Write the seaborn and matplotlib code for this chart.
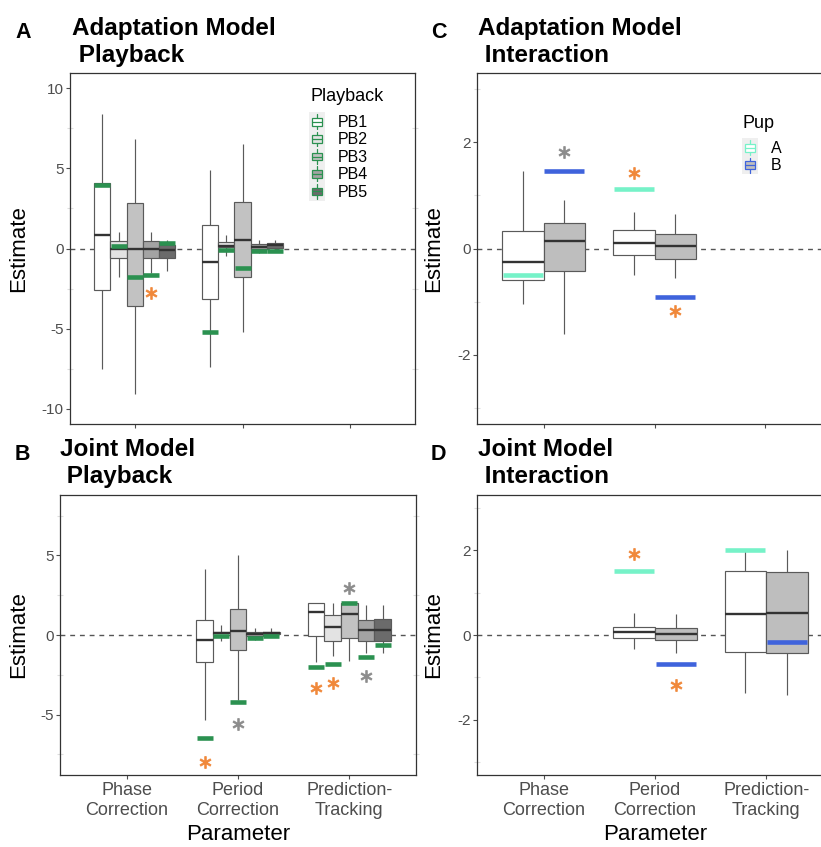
import numpy as np
import pandas as pd
import matplotlib
matplotlib.use("Agg")
import matplotlib.pyplot as plt
import seaborn as sns
from matplotlib.patches import Patch, Rectangle
from matplotlib.lines import Line2D
from matplotlib.legend_handler import HandlerBase
from matplotlib.ticker import MultipleLocator

# config
sns.set_theme(style="white")
plt.rcParams["font.family"] = ["Liberation Sans", "DejaVu Sans"]
plt.rcParams["axes.unicode_minus"] = False
plt.rcParams["text.color"] = "black"
W, H = 821, 847
######################################

PARAMS = ["Phase Correction", "Period Correction", "Prediction-Tracking"]
PARAM_LABELS = ["Phase\nCorrection", "Period\nCorrection", "Prediction-\nTracking"]
PLAYBACKS = ["PB1", "PB2", "PB3", "PB4", "PB5"]
PUPS = ["A", "B"]

PB_FILLS = ["#ffffff", "#e3e3e3", "#c2c2c2", "#a3a3a3", "#6b6b6b"]
PB_EST = "#2b9150"
PUP_FILLS = ["#ffffff", "#bebebe"]
PUP_EST = ["#76f2c8", "#3f63dc"]
STAR_COLORS = {"orange": "#f0883a", "grey": "#8c8c8c"}

# A: adaptation model, playback  (whisker low, q1, median, q3, whisker high)
a_param = ["Phase Correction"] * 5 + ["Period Correction"] * 5
a_level = PLAYBACKS * 2
a_lo = [-7.5, -1.8, -9.05, -1.5, -1.4, -7.4, -0.48, -5.2, -0.27, -0.17]
a_q1 = [-2.6, -0.62, -3.6, -0.62, -0.58, -3.17, 0.1, -1.76, -0.02, 0.02]
a_med = [0.83, -0.05, -0.06, 0.0, -0.1, -0.83, 0.18, 0.56, 0.1, 0.2]
a_q3 = [4.07, 0.46, 2.84, 0.46, 0.2, 1.45, 0.39, 2.88, 0.29, 0.33]
a_hi = [8.38, 1.0, 6.83, 1.0, 0.56, 4.92, 0.87, 6.51, 0.56, 0.56]
a_est = [3.98, 0.15, -1.78, -1.68, 0.35, -5.21, -0.12, -1.22, -0.17, -0.17]
a_star_param = ["Phase Correction"]
a_star_level = ["PB4"]
a_star_y = [-2.76]
a_star_kind = ["orange"]

# B: joint model, playback
b_param = ["Period Correction"] * 5 + ["Prediction-Tracking"] * 5
b_level = PLAYBACKS * 2
b_lo = [-5.33, -0.36, -4.08, -0.31, -0.1, -1.72, -1.3, -1.61, -1.11, -1.11]
b_q1 = [-1.72, 0.0, -0.96, -0.06, 0.04, -0.04, -0.36, -0.17, -0.36, -0.36]
b_med = [-0.31, 0.12, 0.25, 0.04, 0.1, 1.42, 0.48, 1.32, 0.29, 0.29]
b_q3 = [0.92, 0.21, 1.63, 0.17, 0.17, 1.99, 1.26, 1.99, 0.94, 0.98]
b_hi = [4.12, 0.63, 5.0, 0.42, 0.46, 1.99, 1.99, 1.99, 1.88, 1.88]
b_est = [-6.49, -0.06, -4.18, -0.17, -0.04, -2.01, -1.8, 1.99, -1.4, -0.61]
b_star_param = ["Period Correction", "Period Correction", "Prediction-Tracking",
                "Prediction-Tracking", "Prediction-Tracking", "Prediction-Tracking"]
b_star_level = ["PB1", "PB3", "PB1", "PB2", "PB3", "PB4"]
b_star_y = [-8.0, -5.59, -3.35, -3.03, 2.93, -2.55]
b_star_kind = ["orange", "grey", "orange", "orange", "grey", "grey"]

# C: adaptation model, interaction
c_param = ["Phase Correction"] * 2 + ["Period Correction"] * 2
c_level = PUPS * 2
c_lo = [-1.05, -1.61, -0.49, -0.56]
c_q1 = [-0.59, -0.43, -0.13, -0.19]
c_med = [-0.25, 0.15, 0.11, 0.04]
c_q3 = [0.33, 0.48, 0.34, 0.28]
c_hi = [1.46, 0.91, 0.69, 0.65]
c_est = [-0.5, 1.46, 1.11, -0.91]
c_star_param = ["Phase Correction", "Period Correction", "Period Correction"]
c_star_level = ["B", "A", "B"]
c_star_y = [1.81, 1.42, -1.18]
c_star_kind = ["grey", "orange", "orange"]

# D: joint model, interaction
d_param = ["Period Correction"] * 2 + ["Prediction-Tracking"] * 2
d_level = PUPS * 2
d_lo = [-0.33, -0.42, -1.36, -1.42]
d_q1 = [-0.08, -0.12, -0.39, -0.42]
d_med = [0.06, 0.02, 0.5, 0.52]
d_q3 = [0.19, 0.16, 1.52, 1.49]
d_hi = [0.53, 0.49, 2.0, 2.0]
d_est = [1.51, -0.69, 2.0, -0.17]
d_star_param = ["Period Correction", "Period Correction"]
d_star_level = ["A", "B"]
d_star_y = [1.91, -1.17]
d_star_kind = ["orange", "orange"]


def fig_rect(left, top, right, bottom):
    return [left / W, 1 - bottom / H, (right - left) / W, (bottom - top) / H]


def draw_panel(ax, hue, hue_order, fills, est_cols, param, level, lo, q1, med, q3, hi,
               est, s_param, s_level, s_y, s_kind, ylim, ystep, bar_len):
    rows = []
    for p, l, *vals in zip(param, level, lo, q1, med, q3, hi):
        for v in vals:
            rows.append((p, l, v))
    box_df = pd.DataFrame(rows, columns=["Parameter", hue, "Estimate"])

    ax.axhline(0, color="#555555", lw=1.0, ls=(0, (3.5, 3.5)), zorder=0.5)
    sns.boxplot(data=box_df, x="Parameter", y="Estimate", hue=hue, order=PARAMS,
                hue_order=hue_order, palette=dict(zip(hue_order, fills)),
                whis=(0, 100), width=0.75, gap=0, saturation=1, showcaps=False,
                linecolor="#5a5a5a", linewidth=0.85,
                medianprops=dict(color="#333333", linewidth=1.7),
                legend=False, ax=ax)

    dodge = 0.75 - 0.75 / len(hue_order)
    est_df = pd.DataFrame({"Parameter": param, hue: level, "Estimate": est})
    sns.pointplot(data=est_df, x="Parameter", y="Estimate", hue=hue, order=PARAMS,
                  hue_order=hue_order, palette=dict(zip(hue_order, est_cols)),
                  dodge=dodge, marker="_", linestyle="none", markersize=bar_len,
                  markeredgewidth=3.3, errorbar=None, legend=False, zorder=5, ax=ax)

    for kind, col in STAR_COLORS.items():
        idx = [i for i, k in enumerate(s_kind) if k == kind]
        if not idx:
            continue
        star_df = pd.DataFrame({"Parameter": [s_param[i] for i in idx],
                                hue: [s_level[i] for i in idx],
                                "Estimate": [s_y[i] for i in idx]})
        sns.pointplot(data=star_df, x="Parameter", y="Estimate", hue=hue, order=PARAMS,
                      hue_order=hue_order, palette={h: col for h in hue_order},
                      dodge=dodge, marker="$\\ast$", linestyle="none", markersize=8.5,
                      markeredgewidth=0.6, errorbar=None, legend=False, zorder=6, ax=ax)

    ax.set_xlim(-0.6, 2.6)
    ax.set_ylim(*ylim)
    ax.yaxis.set_major_locator(MultipleLocator(ystep))
    ax.yaxis.set_minor_locator(MultipleLocator(ystep / 2))
    ax.set_xticks(range(len(PARAMS)))
    ax.set_xticklabels(PARAM_LABELS)
    for s in ax.spines.values():
        s.set_visible(True)
        s.set_color("#333333")
        s.set_linewidth(0.9)
    ax.tick_params(axis="both", which="major", direction="out", length=3, width=0.8,
                   color="#4d4d4d", labelcolor="#4d4d4d", bottom=True, left=True)
    ax.tick_params(axis="y", which="major", labelsize=11, pad=1.5)
    ax.tick_params(axis="x", which="major", labelsize=13, pad=2)
    ax.tick_params(axis="y", which="minor", left=True, right=True, direction="inout",
                   length=4, width=0.8, color="#dedede")
    ax.set_ylabel("Estimate", fontsize=16, color="black")
    ax.set_xlabel("")


class BoxKey(HandlerBase):
    def create_artists(self, legend, orig_handle, xdescent, ydescent, width, height,
                       fontsize, trans):
        fc = orig_handle.get_facecolor()
        ec = orig_handle.get_edgecolor()
        x0, y0 = -xdescent, -ydescent
        cx, cy = x0 + width / 2, y0 + height / 2
        bw, bh = 7.5, 5.5
        bg = Rectangle((x0, y0 - 0.4), width, height + 0.8, facecolor="#efefef",
                       edgecolor="none", transform=trans)
        wl = Line2D([cx, cx], [y0 + 0.8, y0 + height - 0.8], color=ec, lw=0.9,
                    transform=trans)
        box = Rectangle((cx - bw / 2, cy - bh / 2), bw, bh, facecolor=fc, edgecolor=ec,
                        lw=0.9, transform=trans)
        md = Line2D([cx - bw / 2, cx + bw / 2], [cy, cy], color=ec, lw=0.9,
                    transform=trans)
        return [bg, wl, box, md]


def add_key(ax, labels, fills, edges, title, title_xy, anchor_xy):
    handles = [Patch(facecolor=f, edgecolor=e, label=l)
               for l, f, e in zip(labels, fills, edges)]
    ax.legend(handles=handles, loc="upper left",
              bbox_to_anchor=(anchor_xy[0] / W, 1 - anchor_xy[1] / H),
              bbox_transform=fig.transFigure, frameon=False, fontsize=11.5,
              handler_map={Patch: BoxKey()}, handlelength=1.0, handleheight=1.3,
              handletextpad=0.8, labelspacing=0, borderpad=0, borderaxespad=0)
    fig.text(title_xy[0] / W, 1 - title_xy[1] / H, title, fontsize=13, va="baseline",
             ha="left", color="black")


fig = plt.figure(figsize=(W / 100, H / 100), dpi=100)
ax_a = fig.add_axes(fig_rect(70, 73, 415, 424))
ax_c = fig.add_axes(fig_rect(477, 73, 832, 424))
ax_b = fig.add_axes(fig_rect(60, 495, 416, 775))
ax_d = fig.add_axes(fig_rect(477, 495, 833, 775))

draw_panel(ax_a, "Playback", PLAYBACKS, PB_FILLS, [PB_EST] * 5, a_param, a_level,
           a_lo, a_q1, a_med, a_q3, a_hi, a_est, a_star_param, a_star_level, a_star_y,
           a_star_kind, (-10.95, 10.95), 5, 11.7)
draw_panel(ax_b, "Playback", PLAYBACKS, PB_FILLS, [PB_EST] * 5, b_param, b_level,
           b_lo, b_q1, b_med, b_q3, b_hi, b_est, b_star_param, b_star_level, b_star_y,
           b_star_kind, (-8.8, 8.8), 5, 12.0)
draw_panel(ax_c, "Pup", PUPS, PUP_FILLS, PUP_EST, c_param, c_level,
           c_lo, c_q1, c_med, c_q3, c_hi, c_est, c_star_param, c_star_level, c_star_y,
           c_star_kind, (-3.3, 3.3), 2, 29.5)
draw_panel(ax_d, "Pup", PUPS, PUP_FILLS, PUP_EST, d_param, d_level,
           d_lo, d_q1, d_med, d_q3, d_hi, d_est, d_star_param, d_star_level, d_star_y,
           d_star_kind, (-3.3, 3.3), 2, 29.5)

for ax in (ax_a, ax_c):
    ax.tick_params(axis="x", labelbottom=False)

for ax, xc in ((ax_b, 238), (ax_d, 655)):
    ax.set_xlabel("Parameter", fontsize=16, color="black")
    ax.xaxis.set_label_coords(xc / W, 1 - 824 / H, transform=fig.transFigure)

for ax, yc, xr in ((ax_a, 249, 29), (ax_b, 635, 29), (ax_c, 249, 444), (ax_d, 635, 444)):
    ax.yaxis.set_label_coords(xr / W, 1 - yc / H, transform=fig.transFigure)

add_key(ax_a, PLAYBACKS, PB_FILLS, [PB_EST] * 5, "Playback", (310, 101), (309, 113))
add_key(ax_c, PUPS, PUP_FILLS, PUP_EST, "Pup", (742, 128), (742, 139))

# panel tags and titles
tags = [("A", 15, 38), ("B", 15, 460), ("C", 431, 38), ("D", 431, 460)]
for t, x, y in tags:
    fig.text(x / W, 1 - y / H, t, fontsize=15.5, fontweight="bold", va="baseline")

titles = [("Adaptation Model", " Playback", 72, 35),
          ("Joint Model", " Playback", 60, 456),
          ("Adaptation Model", " Interaction", 478, 35),
          ("Joint Model", " Interaction", 478, 456)]
for l1, l2, x, y in titles:
    fig.text(x / W, 1 - y / H, l1, fontsize=17.5, fontweight="bold", va="baseline")
    fig.text(x / W, 1 - (y + 27) / H, l2, fontsize=17.5, fontweight="bold", va="baseline")

fig.savefig("out.png", dpi=100)
